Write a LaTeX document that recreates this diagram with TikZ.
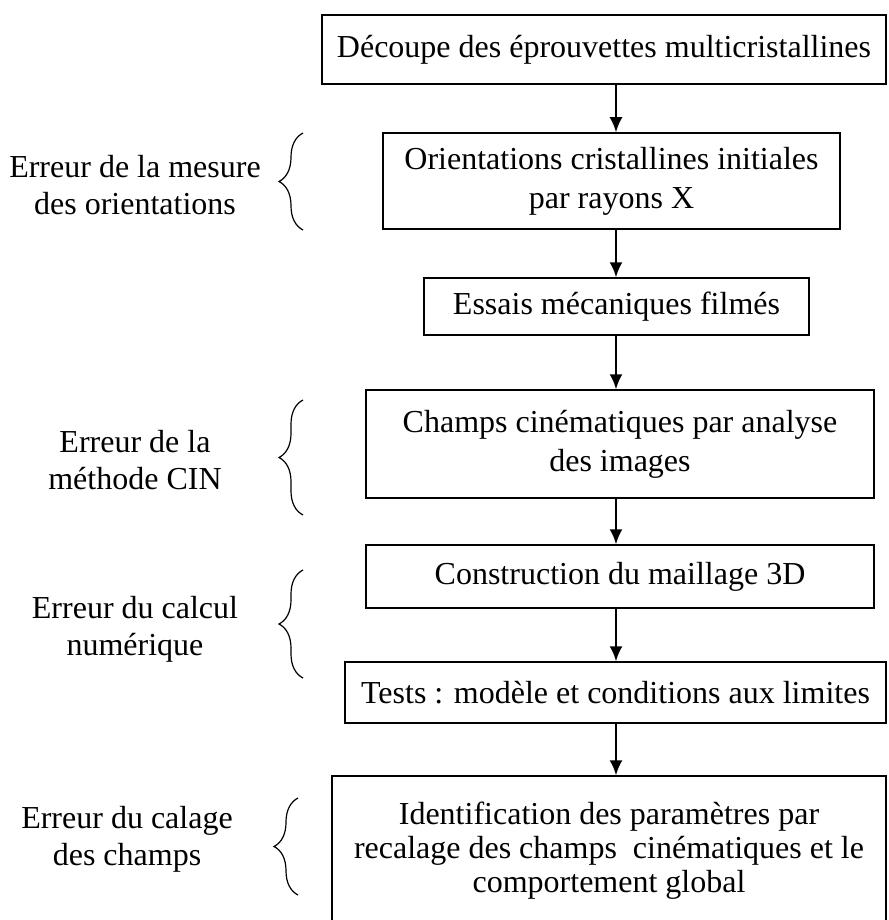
\documentclass[tikz,border=0pt]{standalone}
\usepackage{fontspec}
\setmainfont{Liberation Serif}
\usetikzlibrary{arrows.meta,decorations.pathreplacing}

\begin{document}
\begin{tikzpicture}[x=0.5pt,y=-0.5pt]
		\tikzstyle{etape}=[draw,line width=0.75pt,inner sep=0pt,align=center,font=\fontsize{16}{19.5}\selectfont]
		\tikzstyle{erreur}=[align=center,font=\fontsize{16}{18.5}\selectfont]
		\tikzstyle{myarrow}=[line width=1pt,-{Latex[length=7.5pt,width=6.5pt]}]
		\tikzstyle{mybrace}=[line width=0.6pt,decorate,decoration={brace,amplitude=12pt}]

		\useasboundingbox (0,0) rectangle (888,920);

		% etapes
		\node[etape,minimum width=282pt,minimum height=34.5pt] (decoupe) at (604,49.5) {Découpe des éprouvettes multicristallines};
		\node[etape,minimum width=228.5pt,minimum height=48pt] (orient) at (611.5,181) {Orientations cristallines initiales\\par rayons X};
		\node[etape,minimum width=192.5pt,minimum height=28.5pt] (essais) at (616.5,306.5) {Essais mécaniques filmés};
		\node[etape,minimum width=254pt,minimum height=54pt] (champs) at (620,444) {Champs cinématiques par analyse\\des images};
		\node[etape,minimum width=254pt,minimum height=31.5pt] (maillage) at (620,576.5) {Construction du maillage 3D};
		\node[etape,minimum width=270.5pt,minimum height=30.5pt] (tests) at (615.5,692.5) {Tests : modèle et conditions aux limites};
		\node[etape,minimum width=277pt,minimum height=75pt,font=\fontsize{16}{17}\selectfont] (identif) at (609,851) {Identification des paramètres par\\recalage des champs\ \ cinématiques et le\\comportement global};

		\coordinate (axe) at (616,0);
		\draw[myarrow] (decoupe.south -| axe) -- (orient.north -| axe);
		\draw[myarrow] (orient.south -| axe) -- (essais.north -| axe);
		\draw[myarrow] (essais.south -| axe) -- (champs.north -| axe);
		\draw[myarrow] (champs.south -| axe) -- (maillage.north -| axe);
		\draw[myarrow] (maillage.south -| axe) -- (tests.north -| axe);
		\draw[myarrow] (tests.south -| axe) -- (identif.north -| axe);

		% erreurs
		\node[erreur] (mesure) at (135,185) {Erreur de la mesure\\des orientations};
		\node[erreur] (cin) at (135,460) {Erreur de la\\méthode CIN};
		\node[erreur] (calcul) at (135,629) {Erreur du calcul\\numérique};
		\node[erreur] (calage) at (127,839) {Erreur du calage\\des champs};

		\draw[mybrace] (303,230) -- (303,133);
		\draw[mybrace] (303,515) -- (303,400);
		\draw[mybrace] (303,678) -- (303,570);
		\draw[mybrace] (298,895) -- (298,798);
\end{tikzpicture}
\end{document}
